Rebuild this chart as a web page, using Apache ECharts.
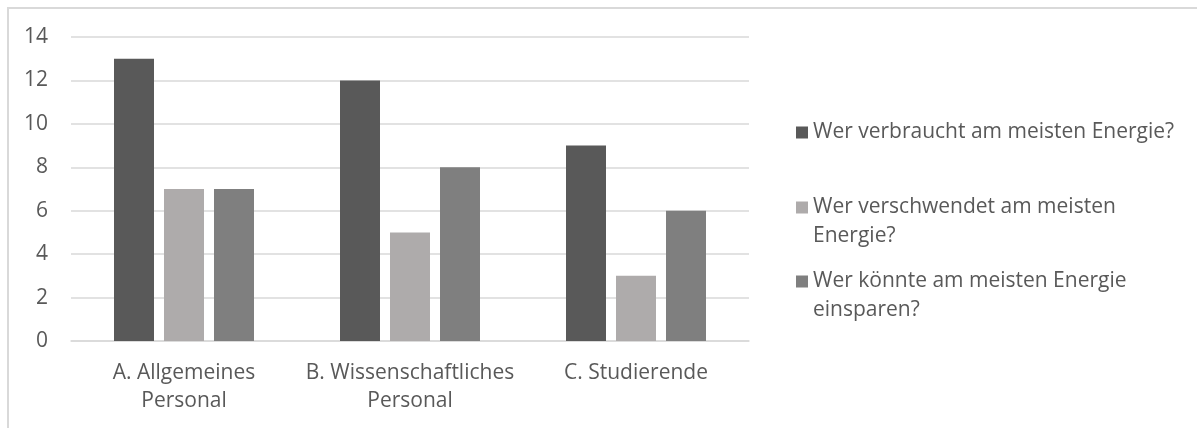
<!DOCTYPE html>
<html>
<head>
<meta charset="utf-8">
<script src="https://cdn.jsdelivr.net/npm/echarts@6/dist/echarts.min.js"></script>
<style>
html, body { margin: 0; padding: 0; background: #fff; }
#chart { width: 1197px; height: 428px; }
</style>
</head>
<body>
<div id="chart"></div>
<script>
const categories = ['A. Allgemeines\nPersonal', 'B. Wissenschaftliches\nPersonal', 'C. Studierende']
const seriesNames = [
  'Wer verbraucht am meisten Energie?',
  'Wer verschwendet am meisten Energie?',
  'Wer könnte am meisten Energie einsparen?'
]
// leading blank line keeps the marker level with the first text line
const legendLabels = [
  'Wer verbraucht am meisten Energie?',
  ' \nWer verschwendet am meisten\nEnergie?',
  ' \nWer könnte am meisten Energie\neinsparen?'
]
const verbraucht = [13, 12, 9]
const verschwendet = [7, 5, 3]
const einsparen = [7, 8, 6]
const colors = ['#595959', '#aeabab', '#7f7f7f']

const font = '"Open Sans", sans-serif'
const textColor = '#595959'

const chart = echarts.init(document.getElementById('chart'))

function legendFor (i, top) {
  return {
    data: [seriesNames[i]],
    orient: 'vertical',
    left: 791,
    top: top,
    itemWidth: 12,
    itemHeight: 12,
    icon: 'rect',
    selectedMode: false,
    formatter: () => legendLabels[i],
    textStyle: {
      fontFamily: font,
      fontSize: 21,
      color: textColor,
      lineHeight: 29
    }
  }
}

const option = {
  animation: false,
  color: colors,
  grid: {
    left: 71,
    right: 448,
    top: 37,
    bottom: 87
  },
  legend: [
    legendFor(0, 113),
    legendFor(1, 159),
    legendFor(2, 233)
  ],
  xAxis: {
    type: 'category',
    data: categories,
    axisLine: { lineStyle: { color: '#d9d9d9', width: 1.5 } },
    axisTick: { show: false },
    axisLabel: {
      fontFamily: font,
      fontSize: 21,
      color: textColor,
      lineHeight: 28,
      margin: 18,
      interval: 0
    }
  },
  yAxis: {
    type: 'value',
    min: 0,
    max: 14,
    interval: 2,
    axisLine: { show: false },
    axisTick: { show: false },
    splitLine: { lineStyle: { color: '#d9d9d9', width: 1.5 } },
    axisLabel: {
      fontFamily: font,
      fontSize: 21,
      color: textColor,
      margin: 23
    }
  },
  series: [
    { name: seriesNames[0], type: 'bar', data: verbraucht, barWidth: 40, barGap: '25%' },
    { name: seriesNames[1], type: 'bar', data: verschwendet, barWidth: 40, barGap: '25%' },
    { name: seriesNames[2], type: 'bar', data: einsparen, barWidth: 40, barGap: '25%' }
  ],
  graphic: [{
    type: 'rect',
    silent: true,
    shape: { x: 8, y: 8, width: 1400, height: 800 },
    style: { fill: 'none', stroke: '#d9d9d9', lineWidth: 2 }
  }]
}

chart.setOption(option)
</script>
</body>
</html>
